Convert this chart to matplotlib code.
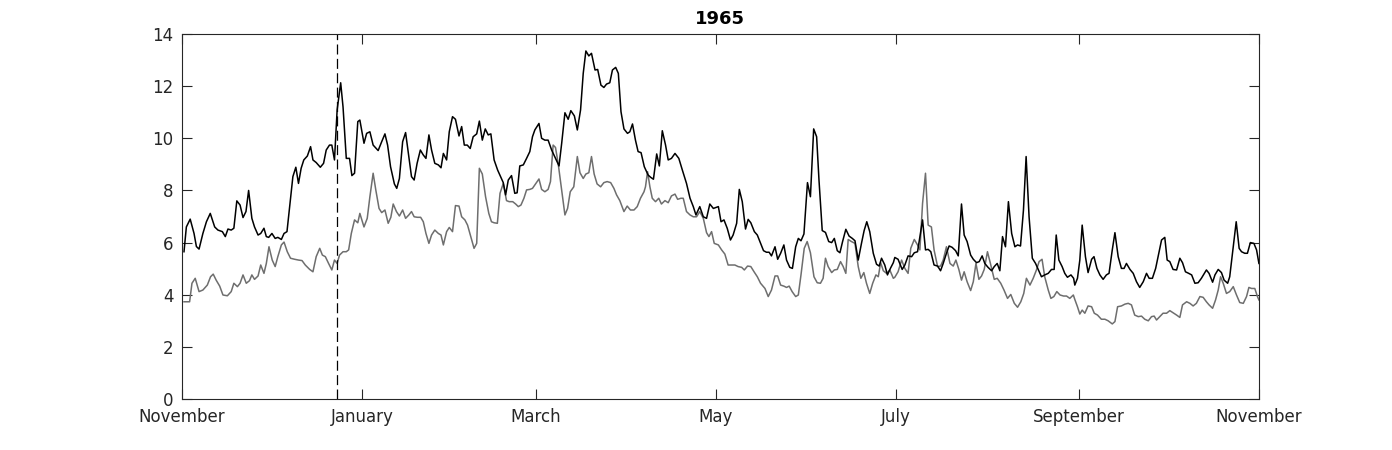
import matplotlib
matplotlib.use("Agg")
import matplotlib.pyplot as plt

# Days counted from 1 November 1964
month_ticks = [0, 61, 120, 181, 242, 304, 365]
month_labels = ['November', 'January', 'March', 'May', 'July', 'September', 'November']
solstice_day = 52.6

# black series
black_days = [0.7, 1.5, 2.8, 4.1, 4.9, 5.8, 7.1, 8.3, 9.6, 11.1, 12.2, 13.7, 14.7, 15.6, 16.7, 17.6,
              18.6, 19.7, 20.7, 21.7, 22.6, 23.7, 24.6, 25.8, 26.7, 27.8, 28.6, 29.4, 30.5, 31.6, 32.5,
              33.7, 34.6, 35.6, 36.5, 37.6, 38.6, 39.5, 40.4, 41.3, 42.5, 43.6, 44.4, 45.5, 46.9, 48.0,
              48.9, 50.0, 50.8, 51.7, 52.6, 53.8, 54.6, 55.7, 56.8, 57.6, 58.5, 59.6,
              60.3, 61.7, 62.6, 63.7, 64.8, 66.5, 67.7, 68.8, 69.7, 70.7, 72.0, 72.8, 73.7, 74.8, 75.8,
              76.9, 77.8, 78.7, 79.7, 80.8, 81.8, 82.7, 83.7, 84.6, 85.7, 86.9, 87.8, 88.6, 89.7, 90.6,
              91.7, 92.7, 93.9, 94.8, 95.7, 96.7, 97.7, 98.7, 99.9, 100.8, 101.8, 102.8, 103.8, 104.7,
              105.8, 107.0, 108.0, 108.9, 109.7, 110.6, 111.7, 112.8, 113.6, 114.5, 115.7, 116.8, 117.9,
              118.8,
              119.6, 121.0, 121.9, 123.0, 124.1, 125.3, 126.6, 127.8, 128.7, 129.8, 130.9, 131.8, 133.0,
              134.0, 135.1, 136.0, 136.9, 137.9, 138.8, 140.0, 140.9, 142.0, 143.0, 143.9, 145.0, 145.9,
              147.0, 147.9, 148.8, 149.8, 151.0, 151.8, 152.7, 153.7, 154.6, 155.6, 156.7, 158.0, 158.9,
              159.8, 160.9, 161.8, 162.8, 163.9, 164.8, 165.9, 167.1, 168.4, 169.6, 171.0, 172.2, 173.3,
              174.2, 175.5, 176.7, 177.8, 178.9, 180.1,
              181.8, 182.7, 183.7, 184.8, 185.9, 186.8, 188.0, 188.9, 189.9, 191.0, 191.9, 192.8, 194.0,
              195.0, 196.1, 197.1, 198.1, 199.0, 199.8, 201.0, 201.9, 202.9, 204.0, 204.9, 206.0, 206.9,
              208.0, 208.9, 209.8, 210.8, 212.0, 213.0, 214.1, 215.1, 215.9, 217.0, 218.1, 219.2, 220.2,
              221.1, 222.1, 223.0, 223.9, 225.0, 226.1, 227.2, 228.1, 229.2, 230.3, 231.2, 232.1, 233.1,
              234.3, 235.4, 236.3, 237.1, 238.2, 239.1, 240.1, 241.1,
              241.6, 242.7, 244.1, 245.0, 246.1, 247.3, 248.2, 249.3, 250.1, 251.0, 252.0, 252.9, 253.8,
              254.9, 256.1, 257.1, 258.0, 259.1, 260.0, 261.0, 262.2, 263.1, 264.2, 265.1, 266.1, 267.3,
              268.2, 269.3, 270.2, 271.2, 272.1, 273.2, 274.4, 275.3, 276.3, 277.2, 278.1, 279.1, 280.1,
              281.2, 282.3, 283.2, 284.2, 285.2, 286.1, 287.1, 288.2, 289.3, 290.4, 291.3, 292.4, 293.6,
              294.7, 295.6, 296.3, 297.2, 298.3, 299.2, 300.1, 301.3, 302.2,
              302.6, 303.5, 304.3, 305.1, 306.2, 307.1, 308.3, 309.1, 310.1, 311.1, 312.2, 313.3, 314.2,
              315.3, 316.2, 317.3, 318.4, 319.3, 320.1, 321.3, 322.4, 323.5, 324.6, 325.8, 326.9, 327.8,
              328.9, 330.0, 331.1, 332.0, 333.1, 333.9, 334.8, 335.9, 337.1, 338.2, 339.1, 340.1, 341.2,
              342.2, 343.3, 344.4, 345.5, 347.2, 348.1, 349.3, 350.1, 351.2, 352.3, 353.2, 354.4, 355.1,
              356.3, 357.3, 358.3, 359.1, 360.2, 361.1, 362.1, 363.3, 364.2, 365.0]
black_vals = [5.65, 6.6, 6.9, 6.35, 5.85, 5.75, 6.35, 6.8, 7.12, 6.6, 6.48, 6.42, 6.23, 6.52, 6.48, 6.55,
              7.6, 7.44, 6.96, 7.19, 8.0, 6.93, 6.6, 6.29, 6.35, 6.55, 6.23, 6.2, 6.35, 6.16, 6.2,
              6.12, 6.35, 6.42, 7.38, 8.53, 8.89, 8.27, 8.85, 9.17, 9.32, 9.68, 9.17, 9.07, 8.89, 9.04,
              9.55, 9.74, 9.74, 9.17, 11.09, 12.13, 11.2, 9.23, 9.23, 8.57, 8.66, 10.64,
              10.7, 9.81, 10.19, 10.25, 9.74, 9.53, 9.87, 10.17, 9.74, 8.91, 8.25, 8.08, 8.46, 9.87, 10.22,
              9.3, 8.53, 8.4, 9.04, 9.55, 9.36, 9.23, 10.13, 9.55, 9.04, 8.98, 8.87, 9.42, 9.17, 10.25,
              10.83, 10.73, 10.09, 10.45, 9.74, 9.74, 9.61, 10.06, 10.17, 10.66, 9.93, 10.36, 10.13, 10.17,
              9.17, 8.78, 8.53, 8.3, 7.83, 8.4, 8.57, 7.89, 7.91, 8.94, 8.98, 9.23, 9.49,
              10.06,
              10.32, 10.57, 10.0, 9.93, 9.93, 9.55, 9.23, 8.94, 9.81, 10.98, 10.73, 11.06, 10.86,
              10.32, 11.09, 12.49, 13.35, 13.16, 13.26, 12.62, 12.64, 12.04, 11.95, 12.08, 12.13, 12.62,
              12.72, 12.49, 11.02, 10.36, 10.19, 10.25, 10.55, 9.93, 9.49, 9.45, 8.91, 8.59, 8.5,
              8.43, 9.4, 8.94, 10.29, 9.74, 9.17, 9.23, 9.42, 9.23, 8.78, 8.27, 7.7, 7.38,
              7.06, 7.38, 6.99, 6.93, 7.48, 7.31,
              7.38, 6.8, 6.87, 6.55, 6.1, 6.29, 6.74, 8.04, 7.57, 6.52, 6.89, 6.76, 6.42,
              6.29, 5.97, 5.69, 5.63, 5.63, 5.49, 5.84, 5.36, 5.59, 5.91, 5.33, 5.05, 5.01,
              5.84, 6.16, 6.07, 6.33, 8.3, 7.76, 10.36, 10.06, 8.4, 6.46, 6.39, 6.04, 6.0,
              6.16, 5.69, 5.61, 6.04, 6.51, 6.25, 6.16, 6.07, 5.33, 5.97, 6.46, 6.8, 6.42,
              5.59, 5.17, 5.1, 5.4, 5.14, 4.76, 5.01, 5.23,
              5.43, 5.36, 4.97, 5.14, 5.49, 5.46, 5.61, 5.65, 6.23, 6.87, 5.72, 5.74, 5.65,
              5.14, 5.1, 4.92, 5.2, 5.59, 5.87, 5.82, 5.69, 5.49, 7.48, 6.29, 6.04, 5.52,
              5.36, 5.23, 5.27, 5.49, 5.2, 5.05, 4.92, 5.08, 5.2, 4.92, 6.23, 5.84, 7.57,
              6.35, 5.84, 5.91, 5.87, 7.25, 9.3, 6.99, 5.4, 5.2, 4.92, 4.69, 4.76, 4.82,
              4.97, 4.97, 6.29, 5.33, 5.08, 4.82, 4.67, 4.76, 4.63,
              4.37, 4.63, 5.33, 6.67, 5.46, 4.85, 5.36, 5.46, 5.01, 4.76, 4.59, 4.76, 4.82,
              5.72, 6.38, 5.46, 5.01, 5.01, 5.2, 4.97, 4.82, 4.5, 4.28, 4.5, 4.82, 4.63,
              4.63, 5.01, 5.61, 6.1, 6.2, 5.33, 5.27, 4.97, 4.95, 5.4, 5.23, 4.88, 4.82,
              4.76, 4.44, 4.46, 4.63, 4.95, 4.82, 4.48, 4.76, 4.97, 4.85, 4.56, 4.44, 4.69,
              5.84, 6.8, 5.78, 5.65, 5.59, 5.59, 6.0, 5.97, 5.72, 5.2]

# grey series
grey_days = [0.7, 2.6, 3.4, 4.5, 5.8, 7.1, 8.6, 9.7, 10.6, 11.6, 12.8, 13.9, 15.4, 16.7, 17.6, 18.8,
             19.7, 20.7, 21.8, 22.9, 23.7, 24.6, 25.8, 26.7, 27.8, 28.6, 29.5, 30.6, 31.6, 32.5, 33.7,
             34.6, 35.7, 36.8, 38.2, 39.5, 40.7, 41.8, 43.3, 44.4, 45.5, 46.7, 47.6, 48.6, 49.7, 50.8,
             51.7, 52.6, 53.4, 54.6, 55.7, 56.5, 57.4, 58.5, 59.6,
             60.3, 61.7, 62.8, 63.7, 64.8, 65.7, 66.8, 67.7, 68.8, 69.9, 70.8, 71.6, 72.7, 73.7, 74.8,
             75.8, 76.9, 77.8, 78.7, 79.8, 80.9, 81.8, 82.7, 83.7, 84.6, 85.7, 86.9, 87.8, 88.6, 89.7,
             90.6, 91.7, 92.7, 93.9, 94.8, 95.9, 96.8, 97.9, 99.0, 99.9, 100.8, 101.8, 102.9, 104.0,
             104.9, 105.8, 106.9, 107.8, 108.9, 110.0, 110.9, 112.1, 113.1, 114.0, 114.9, 115.9, 116.8,
             117.9, 118.8,
             119.6, 121.0, 121.9, 123.0, 124.1, 124.9, 125.8, 126.6, 127.5, 128.7, 129.8, 130.7, 131.6,
             132.8, 134.0, 134.9, 136.0, 136.9, 137.9, 138.8, 139.7, 140.7, 141.9, 143.0, 144.1, 145.3,
             146.4, 147.3, 148.4, 149.8, 150.9, 152.0, 153.2, 154.3, 155.4, 156.6, 157.1, 157.8, 158.6,
             159.4, 160.5, 161.6, 162.5, 163.7, 164.8, 165.9, 167.1, 168.0, 169.1, 169.9, 171.0, 172.2,
             173.3, 174.4, 175.5, 176.7, 177.8, 178.6, 179.5, 180.4,
             181.8, 182.9, 184.0, 185.1, 186.3, 187.4, 188.5, 189.7, 190.6, 191.7, 192.8, 193.9, 195.0,
             196.1, 197.6, 198.7, 199.8, 201.0, 201.9, 202.9, 204.0, 204.9, 205.8, 206.8, 208.0, 208.9,
             209.8, 210.9, 211.9, 213.0, 214.2, 215.3, 216.4, 217.3, 218.1, 219.0, 220.2, 221.1, 222.1,
             223.2, 224.1, 225.0, 225.8, 226.9, 228.1, 229.2, 230.1, 231.1, 232.0, 233.1, 234.1, 235.2,
             236.0, 236.8, 237.7, 238.8, 239.9, 241.1,
             241.6, 242.7, 243.9, 245.0, 246.1, 247.0, 248.2, 249.3, 250.1, 251.0, 252.0, 252.9, 254.0,
             254.9, 256.1, 257.1, 258.0, 259.1, 260.3, 261.4, 262.3, 263.3, 264.2, 265.1, 266.1, 267.3,
             268.2, 269.1, 270.1, 271.0, 271.9, 273.0, 274.0, 275.3, 276.3, 277.5, 278.6, 279.8, 280.9,
             282.1, 283.2, 284.3, 285.3, 286.2, 287.4, 288.5, 289.6, 290.5, 291.5, 292.4, 293.6, 294.5,
             295.5, 296.5, 297.6, 298.8, 299.8, 300.9, 302.1,
             302.6, 303.5, 304.3, 305.1, 306.0, 307.1, 308.3, 309.2, 310.3, 311.6, 312.8, 313.9, 315.3,
             316.2, 317.1, 318.4, 319.6, 320.7, 321.8, 322.9, 324.1, 325.2, 326.3, 327.5, 328.6, 329.5,
             330.3, 331.4, 332.5, 333.7, 334.8, 335.9, 337.1, 338.2, 339.1, 340.5, 341.6, 342.7, 343.8,
             345.0, 346.1, 347.2, 348.1, 349.3, 350.3, 351.2, 352.0, 352.9, 354.0, 355.1, 356.3, 357.4,
             358.5, 359.7, 360.8, 361.6, 362.5, 363.6, 364.5, 365.0]
grey_vals = [3.73, 3.73, 4.44, 4.63, 4.12, 4.18, 4.37, 4.69, 4.79, 4.56, 4.33, 3.99, 3.96, 4.12, 4.44, 4.31,
             4.44, 4.76, 4.44, 4.54, 4.76, 4.59, 4.72, 5.14, 4.82, 5.2, 5.84, 5.33, 5.08, 5.46, 5.91,
             6.02, 5.65, 5.4, 5.36, 5.33, 5.31, 5.14, 4.97, 4.88, 5.46, 5.78, 5.52, 5.46, 5.2, 4.95,
             5.33, 5.2, 5.52, 5.65, 5.65, 5.72, 6.35, 6.87, 6.76,
             7.12, 6.6, 6.93, 7.76, 8.66, 8.02, 7.31, 7.15, 7.25, 6.74, 6.97, 7.48, 7.19, 7.02, 7.25,
             6.93, 7.06, 7.19, 6.99, 6.97, 6.97, 6.8, 6.35, 5.97, 6.29, 6.48, 6.35, 6.29, 5.91, 6.42,
             6.58, 6.42, 7.42, 7.4, 6.99, 6.87, 6.67, 6.23, 5.78, 5.97, 8.85, 8.63, 7.76, 7.12,
             6.8, 6.76, 6.74, 7.89, 8.27, 7.61, 7.57, 7.57, 7.48, 7.38, 7.44, 7.7, 8.02,
             8.04, 8.08,
             8.21, 8.44, 8.04, 7.95, 8.04, 8.34, 9.74, 9.65, 9.04, 8.02, 7.06, 7.31, 7.95,
             8.14, 9.3, 8.68, 8.46, 8.63, 8.68, 9.3, 8.63, 8.25, 8.14, 8.3, 8.34, 8.3,
             8.08, 7.83, 7.61, 7.19, 7.4, 7.25, 7.25, 7.38, 7.7, 7.95, 8.14, 8.72, 8.14,
             7.7, 7.57, 7.7, 7.48, 7.61, 7.53, 7.79, 7.86, 7.66, 7.7, 7.7, 7.19, 7.06,
             6.99, 6.99, 7.19, 6.93, 6.38, 6.23, 6.42, 5.97,
             5.91, 5.72, 5.56, 5.14, 5.14, 5.14, 5.08, 5.05, 4.95, 5.1, 5.08, 4.88, 4.69,
             4.44, 4.24, 3.93, 4.18, 4.72, 4.72, 4.37, 4.33, 4.28, 4.33, 4.12, 3.93, 3.99,
             4.76, 5.78, 6.04, 5.61, 4.69, 4.46, 4.44, 4.63, 5.4, 5.08, 4.85, 4.95, 4.97,
             5.27, 5.08, 4.82, 6.12, 6.04, 5.97, 5.08, 4.63, 4.85, 4.44, 4.05, 4.44, 4.76,
             4.69, 5.23, 4.92, 4.82, 4.95, 4.63,
             4.67, 4.88, 5.33, 5.01, 4.82, 5.78, 6.12, 5.91, 5.72, 7.5, 8.66, 6.67, 6.6,
             5.72, 5.08, 5.1, 5.33, 5.84, 5.2, 5.1, 5.33, 4.97, 4.56, 4.88, 4.5, 4.16,
             4.5, 5.2, 4.59, 4.72, 4.97, 5.65, 5.2, 4.59, 4.63, 4.44, 4.18, 3.86, 4.01,
             3.67, 3.52, 3.73, 4.05, 4.63, 4.37, 4.63, 4.95, 5.27, 5.36, 4.69, 4.18, 3.86,
             3.93, 4.12, 3.99, 3.95, 3.95, 3.86, 3.99,
             3.82, 3.54, 3.26, 3.41, 3.29, 3.57, 3.54, 3.29, 3.22, 3.06, 3.06, 3.0, 2.88,
             2.97, 3.54, 3.57, 3.64, 3.67, 3.61, 3.22, 3.16, 3.18, 3.06, 3.0, 3.16, 3.18,
             3.03, 3.16, 3.29, 3.29, 3.39, 3.31, 3.22, 3.13, 3.61, 3.73, 3.67, 3.57, 3.67,
             3.93, 3.9, 3.73, 3.61, 3.48, 3.8, 4.18, 4.69, 4.44, 4.05, 4.12, 4.31, 3.99,
             3.7, 3.67, 3.93, 4.28, 4.24, 4.24, 3.93, 3.8]

axis_col = '#262626'
plt.rcParams['font.family'] = 'DejaVu Sans'

fig = plt.figure(figsize=(13.92, 4.5), dpi=100)
ax = fig.add_axes([0.1307, 0.1133, 0.7737, 0.8111])

ax.plot(grey_days, grey_vals, color='#6e6e6e', lw=1.1)
ax.plot(black_days, black_vals, color='black', lw=1.1)
ax.axvline(solstice_day, color='black', lw=0.9, dashes=(8, 3.5))

ax.set_xlim(0, 365)
ax.set_ylim(0, 14)
ax.set_xticks(month_ticks)
ax.set_xticklabels(month_labels)
ax.set_yticks(range(0, 15, 2))

ax.tick_params(direction='in', length=7, width=0.8, colors=axis_col, labelsize=12,
               top=True, right=True)
ax.tick_params(axis='x', pad=6.5)
ax.tick_params(axis='y', pad=6)
for s in ax.spines.values():
    s.set_color(axis_col)
    s.set_linewidth(0.8)

ax.set_title('1965', fontsize=13, fontweight='bold', pad=7)

fig.savefig('out.png', dpi=100)
